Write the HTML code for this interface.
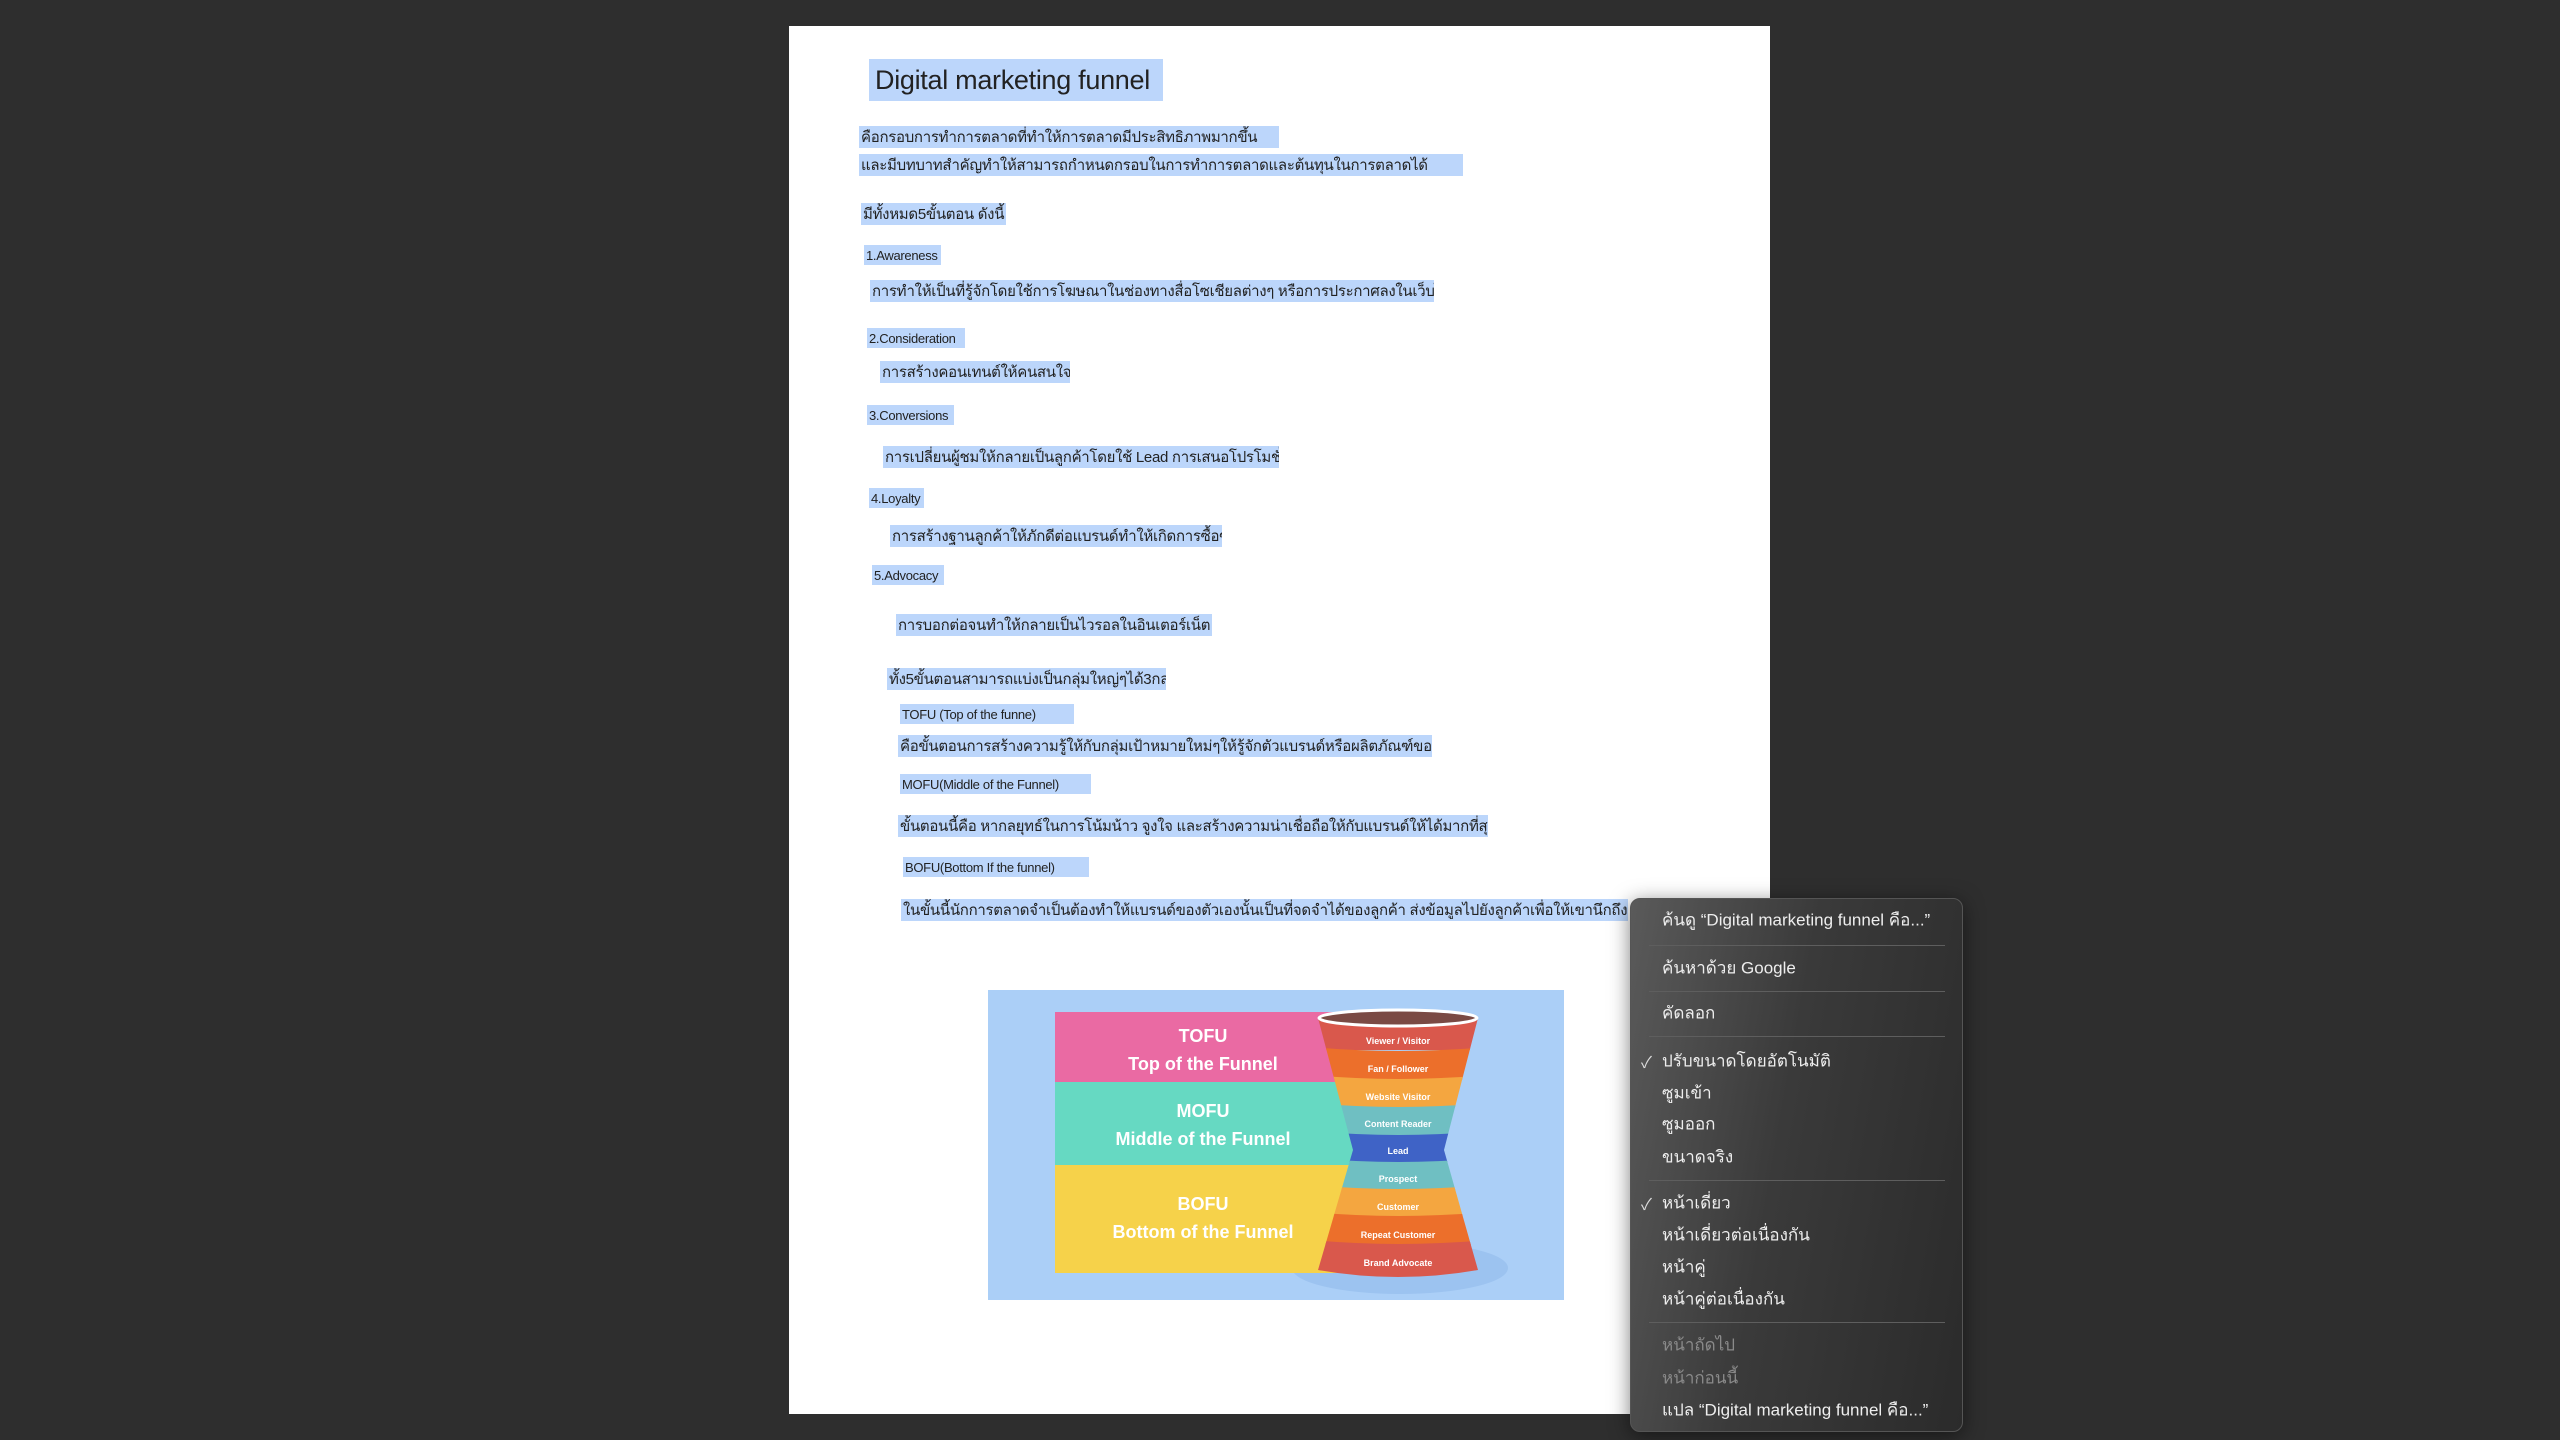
<!DOCTYPE html>
<html><head><meta charset="utf-8"><style>
html,body{margin:0;padding:0}
body{width:2560px;height:1440px;background:#2e2e2e;position:relative;overflow:hidden;font-family:"Liberation Sans","Noto Sans CJK SC",sans-serif}
.page{position:absolute;left:789px;top:26px;width:981px;height:1388px;background:#fff}
.h{position:absolute;background:#bcd6fb;color:#222;white-space:nowrap;overflow:hidden;display:flex;align-items:center;font-size:15px;height:22px;padding-left:2px;box-sizing:border-box;letter-spacing:-0.3px}
.s{font-size:13px;height:20px}
.menu{position:absolute;left:1630px;top:898px;width:333px;height:534px;border-radius:10px;background:linear-gradient(100deg,#5a5a5a 0%,#3a3a3a 45%,#2b2b2b 100%);border:1px solid #555;box-sizing:border-box;box-shadow:0 4px 20px rgba(0,0,0,.5)}
.mi{position:absolute;left:31px;color:#eee;font-size:17px;white-space:nowrap;transform:translateY(-50%)}
.mi.d{color:#8a8a8a}
.ck{position:absolute;left:10px;color:#ddd;font-size:16px;transform:translateY(-50%)}
.sep{position:absolute;left:18px;right:17px;height:1px;background:#5e5e5e}
</style></head><body>
<div class="page"></div>
<div class="h" style="left:869px;top:59px;width:294px;height:42px;font-size:27px;padding-left:6px">Digital marketing funnel</div>
<div class="h" style="left:859px;top:126px;width:420px">คือกรอบการทำการตลาดที่ทำให้การตลาดมีประสิทธิภาพมากขึ้น</div>
<div class="h" style="left:859px;top:154px;width:604px">และมีบทบาทสำคัญทำให้สามารถกำหนดกรอบในการทำการตลาดและต้นทุนในการตลาดได้</div>
<div class="h" style="left:861px;top:203px;width:145px">มีทั้งหมด5ขั้นตอน ดังนี้</div>
<div class="h s" style="left:864px;top:245px;width:77px">1.Awareness</div>
<div class="h" style="left:870px;top:280px;width:564px">การทำให้เป็นที่รู้จักโดยใช้การโฆษณาในช่องทางสื่อโซเชียลต่างๆ หรือการประกาศลงในเว็บไซต์</div>
<div class="h s" style="left:867px;top:328px;width:98px">2.Consideration</div>
<div class="h" style="left:880px;top:361px;width:190px">การสร้างคอนเทนต์ให้คนสนใจ</div>
<div class="h s" style="left:867px;top:405px;width:87px">3.Conversions</div>
<div class="h" style="left:883px;top:446px;width:396px">การเปลี่ยนผู้ชมให้กลายเป็นลูกค้าโดยใช้ Lead การเสนอโปรโมชั่น</div>
<div class="h s" style="left:869px;top:488px;width:55px">4.Loyalty</div>
<div class="h" style="left:890px;top:525px;width:332px">การสร้างฐานลูกค้าให้ภักดีต่อแบรนด์ทำให้เกิดการซื้อซ้ำ</div>
<div class="h s" style="left:872px;top:565px;width:72px">5.Advocacy</div>
<div class="h" style="left:896px;top:614px;width:316px">การบอกต่อจนทำให้กลายเป็นไวรอลในอินเตอร์เน็ต</div>
<div class="h" style="left:887px;top:668px;width:279px">ทั้ง5ขั้นตอนสามารถแบ่งเป็นกลุ่มใหญ่ๆได้3กลุ่ม</div>
<div class="h s" style="left:900px;top:704px;width:174px">TOFU (Top of the funne)</div>
<div class="h" style="left:898px;top:735px;width:534px">คือขั้นตอนการสร้างความรู้ให้กับกลุ่มเป้าหมายใหม่ๆให้รู้จักตัวแบรนด์หรือผลิตภัณฑ์ของเรา</div>
<div class="h s" style="left:900px;top:774px;width:191px">MOFU(Middle of the Funnel)</div>
<div class="h" style="left:898px;top:815px;width:590px">ขั้นตอนนี้คือ หากลยุทธ์ในการโน้มน้าว จูงใจ และสร้างความน่าเชื่อถือให้กับแบรนด์ให้ได้มากที่สุด</div>
<div class="h s" style="left:903px;top:857px;width:186px">BOFU(Bottom If the funnel)</div>
<div class="h" style="left:901px;top:899px;width:727px">ในขั้นนี้นักการตลาดจำเป็นต้องทำให้แบรนด์ของตัวเองนั้นเป็นที่จดจำได้ของลูกค้า ส่งข้อมูลไปยังลูกค้าเพื่อให้เขานึกถึงเรา</div>

<svg style="position:absolute;left:988px;top:990px" width="576" height="310" viewBox="988 990 576 310">
<rect x="988" y="990" width="576" height="310" fill="#abcff7"/>
<ellipse cx="1400" cy="1268" rx="108" ry="26" fill="#9cc3f0"/>
<rect x="1055" y="1012" width="290" height="70" fill="#ea6aa3"/>
<rect x="1055" y="1082" width="310" height="83" fill="#66d9c2"/>
<rect x="1055" y="1165" width="300" height="108" fill="#f6d24a"/>
<g font-family="Liberation Sans,sans-serif" font-weight="bold" fill="#fff" text-anchor="middle">
<text x="1203" y="1042" font-size="18">TOFU</text>
<text x="1203" y="1070" font-size="18">Top of the Funnel</text>
<text x="1203" y="1117" font-size="18">MOFU</text>
<text x="1203" y="1145" font-size="18">Middle of the Funnel</text>
<text x="1203" y="1210" font-size="18">BOFU</text>
<text x="1203" y="1238" font-size="18">Bottom of the Funnel</text>
</g>
<defs><clipPath id="f"><path d="M1318 1018 L1478 1018 L1444 1150 L1478 1270 Q1398 1284 1318 1270 L1353 1150 Z"/></clipPath></defs>
<g clip-path="url(#f)">
<rect x="1300" y="1010" width="200" height="40" fill="#d9584c"/>
<path d="M1300 1046 Q1398 1056 1500 1046 V1080 H1300Z" fill="#ec6f2b"/>
<path d="M1300 1074 Q1398 1084 1500 1074 V1108 H1300Z" fill="#f4a640"/>
<path d="M1300 1102 Q1398 1112 1500 1102 V1135 H1300Z" fill="#6fbfc2"/>
<path d="M1300 1130 Q1398 1140 1500 1130 V1162 H1300Z" fill="#3f63c6"/>
<path d="M1300 1157 Q1398 1167 1500 1157 V1190 H1300Z" fill="#6fbfc2"/>
<path d="M1300 1184 Q1398 1194 1500 1184 V1216 H1300Z" fill="#f4a640"/>
<path d="M1300 1211 Q1398 1221 1500 1211 V1245 H1300Z" fill="#ec6f2b"/>
<path d="M1300 1239 Q1398 1249 1500 1239 V1290 H1300Z" fill="#d9584c"/>
</g>
<ellipse cx="1398" cy="1018" rx="79" ry="8" fill="#7a4a44" stroke="#fff" stroke-width="3"/>
<g font-family="Liberation Sans,sans-serif" font-weight="bold" fill="#fff" text-anchor="middle" font-size="9">
<text x="1398" y="1044">Viewer / Visitor</text>
<text x="1398" y="1072">Fan / Follower</text>
<text x="1398" y="1100">Website Visitor</text>
<text x="1398" y="1127">Content Reader</text>
<text x="1398" y="1154">Lead</text>
<text x="1398" y="1182">Prospect</text>
<text x="1398" y="1210">Customer</text>
<text x="1398" y="1238">Repeat Customer</text>
<text x="1398" y="1266">Brand Advocate</text>
</g>
</svg>

<div class="menu">
<div class="mi" style="top:21px">ค้นดู “Digital marketing funnel คือ...”</div>
<div class="sep" style="top:46px"></div>
<div class="mi" style="top:69px">ค้นหาด้วย Google</div>
<div class="sep" style="top:92px"></div>
<div class="mi" style="top:114px">คัดลอก</div>
<div class="sep" style="top:137px"></div>
<div class="ck" style="top:162px">✓</div>
<div class="mi" style="top:162px">ปรับขนาดโดยอัตโนมัติ</div>
<div class="mi" style="top:194px">ซูมเข้า</div>
<div class="mi" style="top:225px">ซูมออก</div>
<div class="mi" style="top:258px">ขนาดจริง</div>
<div class="sep" style="top:281px"></div>
<div class="ck" style="top:304px">✓</div>
<div class="mi" style="top:304px">หน้าเดี่ยว</div>
<div class="mi" style="top:336px">หน้าเดี่ยวต่อเนื่องกัน</div>
<div class="mi" style="top:368px">หน้าคู่</div>
<div class="mi" style="top:400px">หน้าคู่ต่อเนื่องกัน</div>
<div class="sep" style="top:423px"></div>
<div class="mi d" style="top:446px">หน้าถัดไป</div>
<div class="mi d" style="top:479px">หน้าก่อนนี้</div>
<div class="mi" style="top:511px">แปล “Digital marketing funnel คือ...”</div>
</div>
</body></html>
